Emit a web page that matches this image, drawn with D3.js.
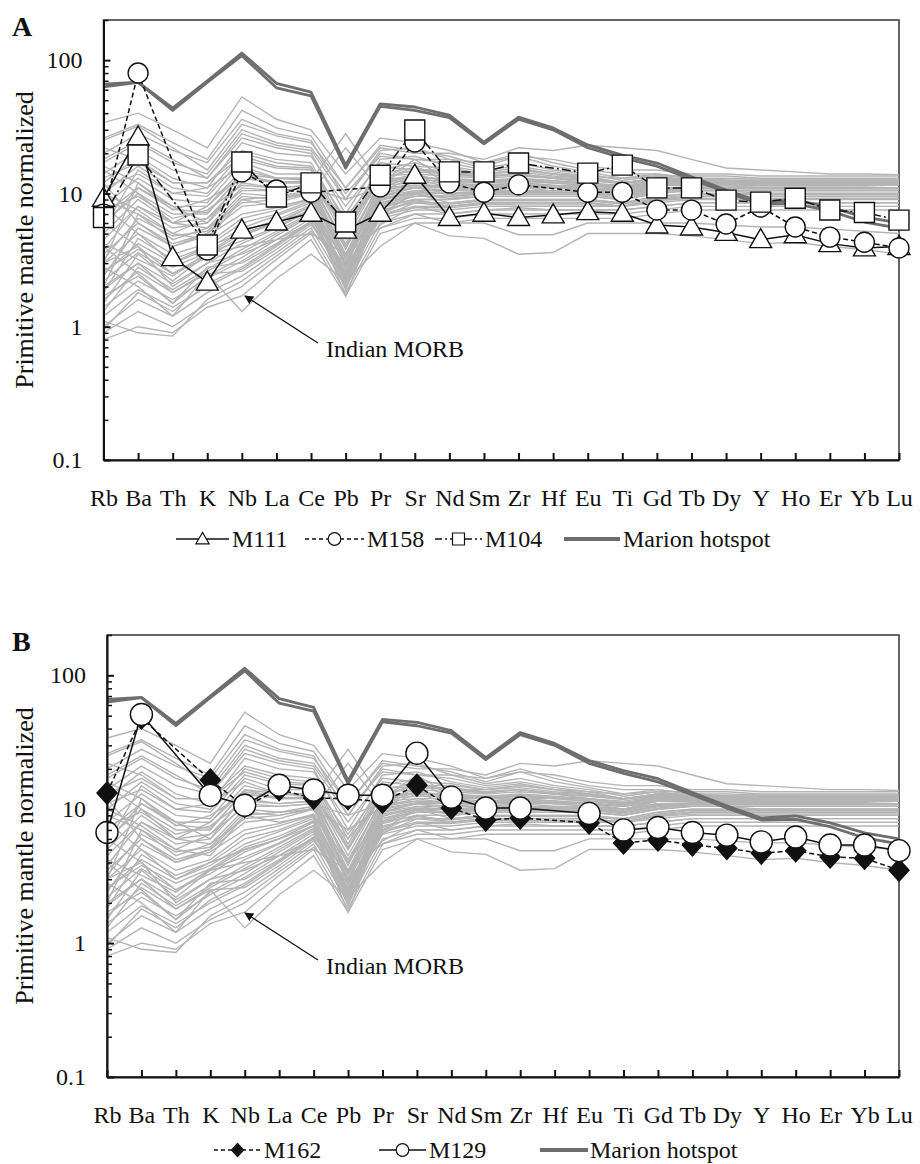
<!DOCTYPE html>
<html>
<head>
<meta charset="utf-8">
<script src="https://cdn.jsdelivr.net/npm/d3@7"></script>
<style>
  body { margin: 0; background: #fff; }
  svg, svg text { font-family: "Liberation Serif", Tinos, "Times New Roman", "DejaVu Serif", serif; }
  svg text { fill: #111; }
</style>
</head>
<body>
<script>
// element order on the x axis
const elements = ["Rb","Ba","Th","K","Nb","La","Ce","Pb","Pr","Sr","Nd","Sm","Zr","Hf","Eu","Ti","Gd","Tb","Dy","Y","Ho","Er","Yb","Lu"];

// y axis ticks
const yMajorTicks = [0.1, 1, 10, 100];
const yMinorTicks = [0.2,0.3,0.4,0.5,0.6,0.7,0.8,0.9, 2,3,4,5,6,7,8,9, 20,30,40,50,60,70,80,90, 200];

// Marion hotspot (two samples, drawn as a thick double line)
const marion1 = [66, 68.5, 43.7, 70, 113, 67, 57.6, 16.3, 46.9, 44.5, 38.7, 24.3, 37.4, 31, 23.1, 19.4, 16.9, 13.3, 10.6, 8.6, 8.9, 7.9, 6.65, 6.0];
const marion2 = [63, 68, 42, 68, 108, 62, 54, 15.5, 45, 42, 37, 23.5, 36, 30, 22, 18.5, 16, 12.8, 10.2, 8.3, 8.4, 7.4, 6.1, 5.5];

// panel A samples (null = not analysed)
const m111 = [9.2, 26.5, 3.3, 2.16, 5.3, 6.1, 7.1, 5.3, 7.1, 13.7, 6.6, 7.1, 6.6, 6.9, 7.3, 7.1, 5.8, 5.6, 5.1, 4.5, 4.9, 4.2, 3.9, 4.0];
const m158 = [7, 80, null, 3.76, 14.5, 10.6, 10.2, null, 11.2, 24.3, 12, 10.2, 11.6, null, 10.2, 10.2, 7.5, 7.5, 5.9, 7.9, 5.6, 4.7, 4.3, 3.9];
const m104 = [6.6, 19.4, null, 4.1, 17.2, 9.4, 12, 6.1, 13.7, 29.9, 14.5, 14.5, 16.9, null, 14.2, 16.3, 11, 11, 8.9, 8.6, 9.2, 7.5, 7.2, 6.3];

// panel B samples
const m162 = [13.2, 48, null, 16.5, 10.5, 14, 12.1, 12, 11.3, 15.1, 10.2, 8.3, 8.6, null, 7.9, 5.6, 5.9, 5.4, 5.1, 4.7, 4.9, 4.4, 4.3, 3.5];
const m129 = [6.7, 51, null, 12.7, 10.7, 15.1, 13.9, 12.7, 12.7, 26.2, 12.3, 10.2, 10.2, null, 9.3, 7.0, 7.3, 6.7, 6.4, 5.7, 6.2, 5.4, 5.4, 4.9];

// Indian MORB field (grey lines)
const morbSamples = [
  [34, 40, 30, 22, 53, 36, 30, 14, 26, 24, 21, 17, 20, 17, 15, 14, 14, 13, 12.5, 12, 12, 12, 11.5, 11.5],
  [26, 33, 24, 18, 42, 31, 27, 11, 23, 21, 19, 16, 19, 16, 14.5, 13, 14, 13, 12.5, 12, 12, 12, 12, 12],
  [20, 28, 21, 17, 36, 28, 25, 9, 21, 22, 18, 15.5, 17, 15, 14, 12.5, 13.5, 12.5, 12, 12, 12, 12, 12, 11.5],
  [17, 24, 17, 14, 30, 24, 22, 10, 19, 18, 17, 15, 16, 14.5, 13.5, 12, 13, 12.5, 12.5, 12, 12, 12, 12, 12],
  [14, 21, 15, 13, 26, 22, 20, 7, 18, 19, 16, 14.5, 15.5, 14, 13, 12, 13, 12.5, 12.5, 12.5, 12.5, 12.5, 12.5, 12.5],
  [12, 19, 13, 11, 24, 20, 19, 8, 17, 16, 15.5, 14, 15, 14, 13, 12, 13, 12.5, 12.5, 12.5, 12.5, 12, 12, 12],
  [22, 18, 12, 12, 21, 18, 17, 6, 16, 15, 15, 14, 14.5, 13.5, 13, 12, 12.5, 12.5, 12, 12, 12, 12, 12, 12],
  [10, 16, 11, 10, 20, 17, 16, 5.5, 15, 17, 14.5, 13.5, 14, 13, 12.5, 12, 12.5, 12.5, 12.5, 12.5, 12.5, 12.5, 12.5, 12.5],
  [8, 13, 9, 8.5, 17, 14, 14, 5, 13.5, 14, 13.5, 13, 13.5, 13, 12, 11.5, 12.5, 12.5, 12.5, 12.5, 12.5, 12.5, 12.5, 12.5],
  [7, 11, 8, 8, 15, 13, 13, 4.5, 13, 13, 13, 12.5, 13, 12.5, 12, 11, 12.5, 12, 12, 12, 12, 12, 12, 12],
  [6, 10, 7, 7, 14, 12, 12.5, 4, 12, 12.5, 12.5, 12, 12.5, 12, 11.5, 11, 12, 12, 12, 12, 12, 12, 12, 12],
  [16, 12, 7.5, 9, 13, 12, 12, 6, 12, 14, 12, 11.5, 12, 11.5, 11, 10.5, 11.5, 11.5, 11.5, 11.5, 11.5, 11.5, 11.5, 11.5],
  [5, 9, 6, 6.5, 12, 11, 11.5, 3.5, 11.5, 12, 12, 12, 12, 12, 11.5, 11, 12, 12, 12, 12, 12, 12, 12, 12],
  [4.5, 8, 5.5, 6, 11, 10.5, 11, 3.2, 11, 11.5, 11.5, 11.5, 11.5, 11.5, 11, 10.5, 11.5, 12, 12, 12, 12, 12, 12, 12],
  [12, 6, 4, 5, 9, 9.5, 10, 7, 10.5, 13, 11, 11, 11, 11, 11, 10.5, 11.5, 11.5, 11.5, 11.5, 11.5, 11.5, 11.5, 11.5],
  [3, 12, 8, 6, 13, 12, 12, 3, 12, 18, 12.5, 12, 12.5, 12, 12, 11, 12, 12, 12, 12, 12, 12, 12, 12],
  [9, 7, 4.5, 5.5, 8.5, 9, 10, 22, 10.5, 12, 11, 11, 11.5, 11, 11, 10, 11.5, 11.5, 11.5, 11, 11, 11, 11, 11],
  [5.5, 15, 10, 11, 16, 13, 12.5, 28, 12, 16, 12, 11, 12, 11, 10.5, 10, 11, 10.5, 10.5, 10, 10, 10, 10, 10],
  [3.5, 6, 4.2, 5, 8, 8.5, 10, 2.8, 10, 11, 11, 11, 11.5, 11, 11, 10.5, 11.5, 11.5, 12, 12, 12, 12, 12, 12],
  [3, 5, 3.5, 4.2, 6.5, 7.5, 9, 2.5, 9.5, 10.5, 10.5, 11, 11, 11, 11, 10, 11.5, 11.5, 11.5, 11.5, 11.5, 11.5, 11.5, 11.5],
  [2.5, 4.2, 3, 3.8, 5.5, 6.8, 8.5, 2.3, 9, 10, 10, 10.5, 10.5, 10.5, 10.5, 10, 11, 11, 11.5, 11.5, 11.5, 11.5, 11.5, 11.5],
  [2.2, 3.6, 2.5, 3.3, 4.8, 6, 8, 2.2, 8.5, 9.5, 9.5, 10, 10, 10, 10, 9.5, 10.5, 11, 11, 11, 11, 11, 11, 11],
  [1.9, 3, 2.1, 3, 4.2, 5.5, 7.5, 2, 8, 9, 9, 9.5, 9.5, 9.5, 9.5, 9, 10, 10.5, 10.5, 10.5, 10.5, 10.5, 10.5, 10.5],
  [1.6, 2.6, 1.8, 2.6, 3.6, 5, 7, 1.9, 7.5, 8.5, 8.5, 9, 9, 9, 9, 8.5, 9.5, 10, 10, 10, 10, 10, 10, 10],
  [1.4, 2.2, 1.6, 2.3, 3.1, 4.5, 6.5, 2.4, 7, 8, 8, 8.5, 8.5, 8.5, 8.5, 8, 9, 9.5, 9.5, 9.5, 9.5, 9.5, 9.5, 9.5],
  [1.2, 1.9, 1.4, 2, 2.7, 4, 6, 2.2, 6.5, 7.5, 7.5, 8, 8, 8, 8, 8, 8.5, 9, 9, 9, 9, 9, 9, 9],
  [1, 1.6, 1.2, 1.8, 2.4, 3.6, 5.5, 2, 6, 7, 7, 7.5, 7.5, 7.5, 7.5, 7.5, 8, 8.5, 8.5, 8.5, 8.5, 8.5, 8.5, 8.5],
  [0.9, 1.3, 1, 1.5, 2, 3.2, 5, 1.8, 5.5, 6.5, 6.5, 7, 7, 7, 7, 7, 7.5, 8, 8, 8, 8, 8, 8, 8],
  [0.8, 1, 0.9, 1.4, 1.7, 2.8, 4.5, 1.7, 5, 6, 6, 6.5, 6.5, 6.5, 6.5, 6.5, 7, 7.5, 7.5, 7.5, 7.5, 7.5, 7.5, 7.5],
  [1.1, 0.9, 0.85, 1.6, 2.2, 3.4, 5.2, 3, 5.8, 8, 7, 7.5, 7.8, 7.5, 7.5, 7.5, 8, 8.5, 8.5, 8.5, 8.5, 8.5, 8.5, 8.5],
  [6, 4, 2, 3, 3.5, 4.5, 6, 2.6, 7, 9, 8, 8.5, 8.5, 8.5, 8.5, 8, 9, 9.5, 9.5, 9.5, 9.5, 9.5, 9.5, 9.5],
  [4, 2.5, 1.5, 2.8, 3, 4.2, 6.2, 3.5, 7, 10, 8.5, 9, 9, 9, 9, 8.5, 9.5, 10, 10, 10, 10, 10, 10, 10],
  [2.8, 2, 1.2, 2.5, 2.6, 3.8, 5.8, 2.8, 6.6, 8.5, 8, 8.5, 8.5, 8.5, 8.5, 8, 9, 9.5, 9.5, 9.5, 9.5, 9.5, 9.5, 9.5],
  [2, 7, 5, 4.5, 9, 8, 9, 4, 9.5, 11, 10, 10, 10.5, 10, 10, 9.5, 10.5, 10.5, 10.5, 10.5, 10.5, 10.5, 10.5, 10.5],
  [8, 5, 3, 4, 5, 6, 8, 3, 8.5, 10, 9.5, 10, 10, 10, 10, 9.5, 10.5, 11, 11, 11, 11, 11, 11, 11],
  [1.5, 3.5, 2.2, 3.5, 5, 6, 7.5, 1.7, 8, 9.5, 9.5, 10, 10, 10, 10, 9.5, 10.5, 11, 11, 11, 11, 11, 11, 11],
  [3.8, 8, 6, 5.5, 10, 9.5, 10.5, 3, 10.5, 11.5, 11, 11, 11.5, 11, 11, 10.5, 11.5, 12, 12, 12, 12, 12, 12, 12],
  [1.3, 2.8, 1.9, 2.7, 3.8, 5.2, 7.2, 2.5, 7.8, 9, 9, 9.5, 9.5, 9.5, 9.5, 9, 10, 10.5, 10.5, 10.5, 10.5, 10.5, 10.5, 10.5],
  [2, 3, 1.8, 2.5, 1.3, 2.3, 3.5, 2.2, 4, 6, 4.8, 4.6, 3.5, 3.6, 5, 5, 5, 4.8, 4.5, 4.2, 4.3, 4, 3.8, 3.5],
  [3, 4, 2.5, 3.5, 4, 4.5, 5, 3.5, 5.5, 7, 6, 6, 4.9, 4.9, 6, 6, 6, 6, 5.8, 5.6, 5.6, 5.4, 5.2, 5],
  [25, 32, 22, 15, 33, 27, 24, 11, 22, 20, 20, 18, 22, 21, 23, 22, 21, 18, 15.5, 15, 14.5, 14, 14, 13.8],
  [18, 25, 18, 13, 28, 23, 21, 9, 20, 18, 18, 17, 19, 18, 16, 15, 15, 14, 14, 13.5, 13.5, 13.5, 13.5, 13.5],
  [15, 10, 6, 8, 14, 13, 13, 5, 13, 15, 14, 14, 15, 14, 13.5, 13, 13.5, 13.5, 13.5, 13, 13, 13, 13, 13],
  [2.4, 5.5, 4, 4.8, 7, 7.8, 9.2, 3.3, 9.6, 11, 10.5, 10.5, 11, 10.5, 10.5, 10, 11, 11.2, 11.2, 11.2, 11.2, 11.2, 11.2, 11],
  [7.5, 9.5, 6.5, 7.5, 11.5, 11, 11.5, 4.2, 11.8, 13.5, 12.5, 12.2, 12.8, 12.2, 12, 11.2, 12.2, 12.2, 12.2, 12, 12, 12, 12, 12],
  [1.8, 4.6, 3.2, 4, 6, 7, 8.8, 2.9, 9.2, 10.2, 10, 10.2, 10.5, 10.2, 10.2, 9.8, 10.8, 11, 11, 11, 11, 11, 11, 11],
  [11, 14, 10, 9.5, 18, 15.5, 15, 5.2, 14.2, 15.5, 14, 13.2, 14, 13, 12.5, 11.8, 12.8, 12.5, 12.5, 12.2, 12.2, 12.2, 12.2, 12.2],
  [4.2, 3.2, 2.4, 3.6, 4.4, 5.6, 7.6, 2.7, 8.2, 9.8, 9.2, 9.8, 9.8, 9.8, 9.8, 9.2, 10.2, 10.8, 10.8, 10.8, 10.8, 10.8, 10.8, 10.8],
  [0.95, 1.8, 1.3, 2.1, 2.8, 4.1, 6.1, 2.3, 6.8, 7.8, 7.8, 8.3, 8.2, 8.2, 8.2, 8, 8.8, 9.2, 9.2, 9.2, 9.2, 9.2, 9.2, 9.2],
  [13, 17, 12, 12, 19, 16, 15.5, 6.5, 14.5, 14.5, 14, 13.5, 14, 13.2, 12.8, 12, 13, 13, 13, 12.8, 12.8, 12.8, 12.8, 12.8],
  [5.8, 11, 7.6, 7.2, 13.5, 12.2, 12.3, 3.8, 12.2, 13.2, 12.8, 12.4, 12.8, 12.2, 11.8, 11.2, 12.3, 12.3, 12.3, 12.3, 12.3, 12.3, 12.3, 12.3],
  [1.7, 2.4, 1.5, 2.4, 3.3, 4.8, 6.8, 2.1, 7.3, 8.8, 8.3, 8.8, 8.8, 8.8, 8.8, 8.3, 9.2, 9.8, 9.8, 9.8, 9.8, 9.8, 9.8, 9.8],
  [10, 7.5, 5, 6.5, 10.5, 10.5, 11, 9, 11, 13.5, 11.5, 11.5, 12, 11.5, 11.5, 10.8, 11.8, 11.8, 11.8, 11.6, 11.6, 11.6, 11.6, 11.6],
  [3.2, 6.5, 4.8, 5.2, 9.5, 9, 10.2, 3.4, 10.2, 11.2, 11.2, 11.2, 11.5, 11.2, 11.2, 10.6, 11.6, 11.8, 11.8, 11.8, 11.8, 11.8, 11.8, 11.8],
  [2.6, 3.8, 2.8, 3.6, 5.2, 6.3, 8.2, 2.4, 8.8, 10.5, 9.8, 10.2, 10.2, 10.2, 10.2, 9.6, 10.6, 11, 11, 11, 11, 11, 11, 11]
];

const svgWidth = 920, svgHeight = 1164;
const morbColor = "#b4b4b4", marionColor = "#6e6e6e";
const fontStack = "'Liberation Serif', Tinos, 'Times New Roman', 'DejaVu Serif', serif";

const svg = d3.select("body").append("svg")
  .attr("width", svgWidth)
  .attr("height", svgHeight)
  .attr("font-family", fontStack);

// arrow head for the "Indian MORB" pointer
svg.append("defs").append("marker")
  .attr("id", "arrow")
  .attr("viewBox", "0 0 10 10")
  .attr("refX", 9).attr("refY", 5)
  .attr("markerWidth", 9).attr("markerHeight", 9)
  .attr("markerUnits", "userSpaceOnUse")
  .attr("orient", "auto")
  .append("path").attr("d", "M0,0 L10,5 L0,10 Z").attr("fill", "#111");

// marker shapes, s = scale factor
function shapePath(shape, s) {
  if (shape === "triangle") return `M0,${-11*s}L${11*s},${8*s}L${-11*s},${8*s}Z`;
  if (shape === "square") return `M${-10*s},${-10*s}h${20*s}v${20*s}h${-20*s}Z`;
  if (shape === "diamond") return `M0,${-11*s}L${10*s},0L0,${11*s}L${-10*s},0Z`;
  return d3.symbol().type(d3.symbolCircle).size(Math.PI * (10.5*s) * (10.5*s))();
}

function styleText(sel, size) {
  sel.attr("font-size", size)
    .attr("fill", "#111")
    .attr("font-family", fontStack);
}

function drawPanel(p) {
  const g = svg.append("g");

  const x = d3.scalePoint().domain(elements).range([p.left, p.right]).padding(0);
  const y = d3.scaleLog().domain([0.1, 200]).range([p.bottom, p.top]);

  const line = d3.line().x(d => x(d[0])).y(d => y(d[1]));
  const pairs = vals => elements.map((e, i) => [e, vals[i]]).filter(d => d[1] != null);

  // frame (top and right)
  g.append("rect")
    .attr("x", p.left).attr("y", p.top)
    .attr("width", p.right - p.left).attr("height", p.bottom - p.top)
    .attr("fill", "none").attr("stroke", "#333").attr("stroke-width", 1.5);

  // Indian MORB field
  g.append("g").selectAll("path")
    .data(morbSamples)
    .enter().append("path")
    .attr("d", d => line(pairs(d)))
    .attr("fill", "none")
    .attr("stroke", morbColor)
    .attr("stroke-width", 1.4);

  // Marion hotspot
  [marion1, marion2].forEach(m => {
    g.append("path")
      .attr("d", line(pairs(m)))
      .attr("fill", "none")
      .attr("stroke", marionColor)
      .attr("stroke-width", 2.8)
      .attr("stroke-linejoin", "round");
  });

  // sample lines
  p.series.forEach(s => {
    g.append("path")
      .attr("d", line(pairs(s.values)))
      .attr("fill", "none")
      .attr("stroke", "#111")
      .attr("stroke-width", 1.5)
      .attr("stroke-dasharray", s.dash);
  });

  // sample markers
  p.series.forEach(s => {
    g.append("g").selectAll("path")
      .data(pairs(s.values))
      .enter().append("path")
      .attr("transform", d => `translate(${x(d[0])},${y(d[1])})`)
      .attr("d", shapePath(s.shape, s.size || 1))
      .attr("fill", s.fill)
      .attr("stroke", "#111")
      .attr("stroke-width", 1.4);
  });

  // x axis, ticks inside
  const xAxis = g.append("g")
    .attr("transform", `translate(0,${p.bottom})`)
    .call(d3.axisBottom(x).tickSizeInner(-7).tickSizeOuter(0).tickPadding(29));
  xAxis.attr("font-family", fontStack);
  xAxis.select(".domain").attr("stroke", "#111").attr("stroke-width", 2);
  xAxis.selectAll(".tick line").attr("stroke", "#111").attr("stroke-width", 2);
  styleText(xAxis.selectAll("text"), 24);

  // y axis, major and minor ticks inside
  const yMinor = g.append("g")
    .attr("transform", `translate(${p.left},0)`)
    .call(d3.axisLeft(y).tickValues(yMinorTicks).tickSizeInner(-5).tickSizeOuter(0).tickFormat(""));
  yMinor.select(".domain").remove();
  yMinor.selectAll(".tick line").attr("stroke", "#111").attr("stroke-width", 1.5);

  const yAxis = g.append("g")
    .attr("transform", `translate(${p.left},0)`)
    .call(d3.axisLeft(y).tickValues(yMajorTicks).tickSizeInner(-7).tickSizeOuter(0)
      .tickPadding(21).tickFormat(d => d >= 1 ? d3.format("d")(d) : d3.format(".1f")(d)));
  yAxis.attr("font-family", fontStack);
  yAxis.select(".domain").attr("stroke", "#111").attr("stroke-width", 2);
  yAxis.selectAll(".tick line").attr("stroke", "#111").attr("stroke-width", 2);
  styleText(yAxis.selectAll("text"), 24);

  // y axis title
  g.append("text")
    .attr("transform", `translate(33,${(p.top + p.bottom) / 2}) rotate(-90)`)
    .attr("text-anchor", "middle")
    .call(styleText, 26)
    .text("Primitive mantle normalized");

  // panel letter
  g.append("text")
    .attr("x", 12).attr("y", p.top + 16)
    .call(styleText, 28)
    .attr("font-weight", "bold")
    .text(p.letter);

  // Indian MORB label with arrow
  g.append("line")
    .attr("x1", 318).attr("y1", p.bottom - 117)
    .attr("x2", 245).attr("y2", p.bottom - 164)
    .attr("stroke", "#111").attr("stroke-width", 1.3)
    .attr("marker-end", "url(#arrow)");
  g.append("text")
    .attr("x", 326).attr("y", p.bottom - 103)
    .call(styleText, 24)
    .text("Indian MORB");

  // legend
  const ly = p.bottom + p.legendOffset;
  const leg = g.append("g");
  p.legend.forEach(item => {
    const cy = ly - 8;
    leg.append("line")
      .attr("x1", item.x1).attr("x2", item.x2)
      .attr("y1", cy).attr("y2", cy)
      .attr("stroke", item.marion ? marionColor : "#111")
      .attr("stroke-width", item.marion ? 4 : 1.5)
      .attr("stroke-dasharray", item.dash || null);
    if (item.shape) {
      leg.append("path")
        .attr("transform", `translate(${(item.x1 + item.x2) / 2},${cy})`)
        .attr("d", shapePath(item.shape, 0.6))
        .attr("fill", item.fill)
        .attr("stroke", "#111")
        .attr("stroke-width", 1.2);
    }
    leg.append("text")
      .attr("x", item.tx).attr("y", ly)
      .call(styleText, 24)
      .text(item.label);
  });
}

drawPanel({
  letter: "A",
  left: 103.5, right: 899, top: 20, bottom: 460, legendOffset: 87,
  series: [
    { values: m111, dash: null, shape: "triangle", fill: "#fff" },
    { values: m158, dash: "5,3", shape: "circle", fill: "#fff", size: 0.95 },
    { values: m104, dash: "9,3,2,3", shape: "square", fill: "#fff" }
  ],
  legend: [
    { x1: 176, x2: 229, tx: 232, label: "M111", shape: "triangle", fill: "#fff" },
    { x1: 305, x2: 364, tx: 367, label: "M158", shape: "circle", fill: "#fff", dash: "4,3" },
    { x1: 435, x2: 482, tx: 485, label: "M104", shape: "square", fill: "#fff", dash: "7,3,2,3" },
    { x1: 564, x2: 620, tx: 623, label: "Marion hotspot", marion: true }
  ]
});

drawPanel({
  letter: "B",
  left: 107, right: 899, top: 635, bottom: 1077, legendOffset: 81,
  series: [
    { values: m162, dash: "5,3", shape: "diamond", fill: "#111" },
    { values: m129, dash: null, shape: "circle", fill: "#fff", size: 1.05 }
  ],
  legend: [
    { x1: 214, x2: 261, tx: 264, label: "M162", shape: "diamond", fill: "#111", dash: "4,3" },
    { x1: 379, x2: 426, tx: 429, label: "M129", shape: "circle", fill: "#fff" },
    { x1: 540, x2: 588, tx: 590, label: "Marion hotspot", marion: true }
  ]
});
</script>
</body>
</html>
